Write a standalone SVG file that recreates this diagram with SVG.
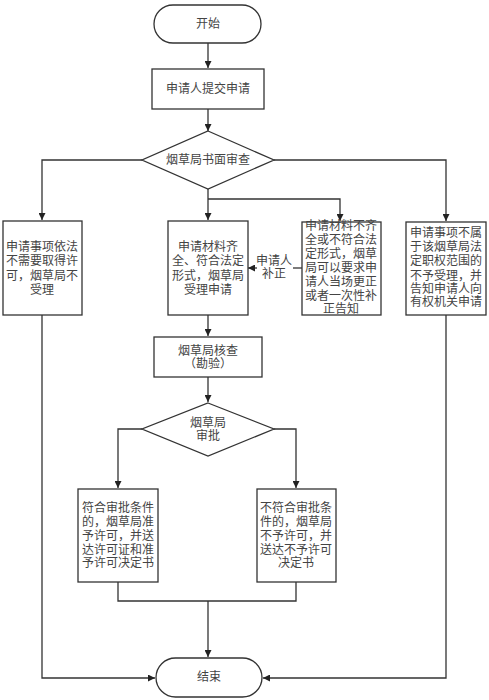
<svg xmlns="http://www.w3.org/2000/svg" width="489" height="700" viewBox="0 0 489 700">
<style>
.s{fill:#fff;stroke:#333;stroke-width:1.3}
.c{fill:none;stroke:#333;stroke-width:1.3}
text{font-family:"Liberation Serif","Noto Sans CJK SC",serif;font-size:12px;fill:#444;text-anchor:middle;dominant-baseline:central}
</style>
<defs>
<marker id="a" viewBox="0 0 10 10" refX="10" refY="5" markerWidth="7" markerHeight="7" orient="auto" markerUnits="userSpaceOnUse">
<path d="M0,0L10,5L0,10z" fill="#222"/>
</marker>
</defs>
<rect width="489" height="700" fill="#fff"/>
<g id="connectors">
<path class="c" d="M208,43V68" marker-end="url(#a)"/>
<path class="c" d="M208,109V131" marker-end="url(#a)"/>
<path class="c" d="M142,160H42V220" marker-end="url(#a)"/>
<path class="c" d="M274,160H446V221" marker-end="url(#a)"/>
<path class="c" d="M208,189V220" marker-end="url(#a)"/>
<path class="c" d="M208,199H340V221" marker-end="url(#a)"/>
<path class="c" d="M302,268H293"/>
<path class="c" d="M257,268H248" marker-end="url(#a)"/>
<path class="c" d="M208,315V336" marker-end="url(#a)"/>
<path class="c" d="M208,377V402" marker-end="url(#a)"/>
<path class="c" d="M142,429H118V488" marker-end="url(#a)"/>
<path class="c" d="M274,429H296V488" marker-end="url(#a)"/>
<path class="c" d="M118,582V601H296V582"/>
<path class="c" d="M208,601V657" marker-end="url(#a)"/>
<path class="c" d="M42,315V678H155" marker-end="url(#a)"/>
<path class="c" d="M446,315V678H263" marker-end="url(#a)"/>
<text x="274" y="261">申请人</text>
<text x="274" y="274">补正</text>
</g>
<g id="start">
<rect class="s" x="154" y="5" width="107" height="38" rx="19"/>
<text x="208" y="24">开始</text>
</g>
<g id="submit">
<rect class="s" x="152" y="69" width="112" height="40"/>
<text x="208" y="89">申请人提交申请</text>
</g>
<g id="review">
<path class="s" d="M208,131L274,160L208,189L142,160Z"/>
<text x="208" y="160">烟草局书面审查</text>
</g>
<g id="notneeded">
<rect class="s" x="3" y="221" width="79" height="94"/>
<text x="42" y="247">申请事项依法</text>
<text x="42" y="261">不需要取得许</text>
<text x="42" y="276">可，烟草局不</text>
<text x="42" y="290">受理</text>
</g>
<g id="accept">
<rect class="s" x="168" y="221" width="80" height="94"/>
<text x="208" y="247">申请材料齐</text>
<text x="208" y="261">全、符合法定</text>
<text x="208" y="276">形式，烟草局</text>
<text x="208" y="290">受理申请</text>
</g>
<g id="incomplete">
<rect class="s" x="302" y="222" width="79" height="93"/>
<text x="341" y="226">申请材料不齐</text>
<text x="341" y="240">全或不符合法</text>
<text x="341" y="254">定形式，烟草</text>
<text x="341" y="268">局可以要求申</text>
<text x="341" y="282">请人当场更正</text>
<text x="341" y="296">或者一次性补</text>
<text x="341" y="309">正告知</text>
</g>
<g id="outofscope">
<rect class="s" x="406" y="222" width="80" height="93"/>
<text x="446" y="233">申请事项不属</text>
<text x="446" y="247">于该烟草局法</text>
<text x="446" y="261">定职权范围的</text>
<text x="446" y="276">不予受理，并</text>
<text x="446" y="289">告知申请人向</text>
<text x="446" y="302">有权机关申请</text>
</g>
<g id="inspect">
<rect class="s" x="154" y="337" width="108" height="40"/>
<text x="208" y="351">烟草局核查</text>
<text x="208" y="364">（勘验）</text>
</g>
<g id="approve">
<path class="s" d="M208,403L274,429L208,456L142,429Z"/>
<text x="208" y="423">烟草局</text>
<text x="208" y="436">审批</text>
</g>
<g id="grant">
<rect class="s" x="78" y="489" width="80" height="93"/>
<text x="118" y="508">符合审批条件</text>
<text x="118" y="522">的，烟草局准</text>
<text x="118" y="536">予许可，并送</text>
<text x="118" y="550">达许可证和准</text>
<text x="118" y="563">予许可决定书</text>
</g>
<g id="deny">
<rect class="s" x="257" y="489" width="79" height="93"/>
<text x="296" y="508">不符合审批条</text>
<text x="296" y="522">件的，烟草局</text>
<text x="296" y="536">不予许可，并</text>
<text x="296" y="550">送达不予许可</text>
<text x="296" y="563">决定书</text>
</g>
<g id="end">
<rect class="s" x="156" y="658" width="106" height="39" rx="19.5"/>
<text x="209" y="677">结束</text>
</g>
</svg>
